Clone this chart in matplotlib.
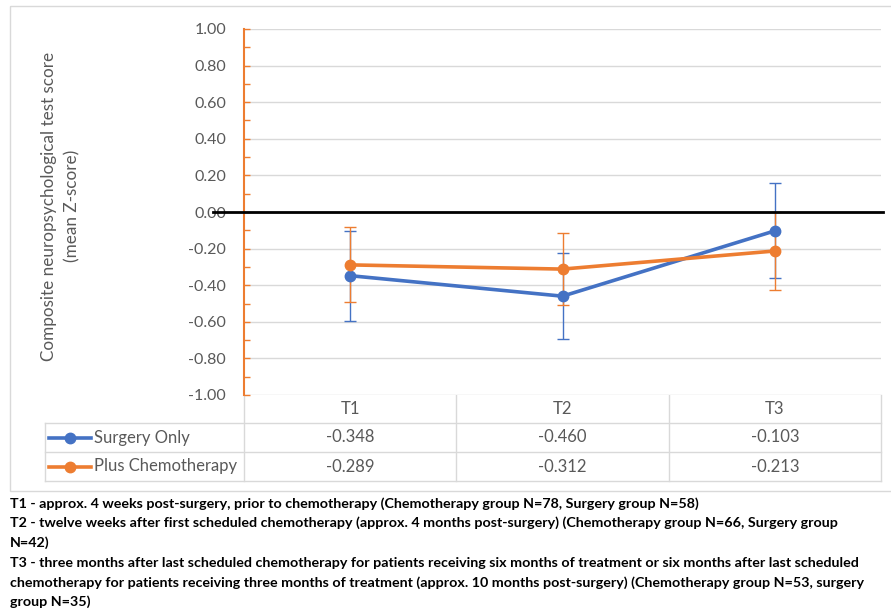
import matplotlib
matplotlib.use("Agg")
import matplotlib.pyplot as plt
from matplotlib.patches import Rectangle

# ------------------------------------------------------------
# data
# ------------------------------------------------------------
timepoints = ["T1", "T2", "T3"]
series_names = ["Surgery Only", "Plus Chemotherapy"]
surgery = [-0.348, -0.460, -0.103]
chemo = [-0.289, -0.312, -0.213]
surgery_err = [0.245, 0.235, 0.260]
chemo_err = [0.205, 0.195, 0.213]

footnotes = [
    "T1 - approx. 4 weeks post-surgery, prior to chemotherapy (Chemotherapy group N=78, Surgery group N=58)",
    "T2 - twelve weeks after first scheduled chemotherapy (approx. 4 months post-surgery) (Chemotherapy group N=66, Surgery group",
    "N=42)",
    "T3 - three months after last scheduled chemotherapy for patients receiving six months of treatment or six months after last scheduled",
    "chemotherapy for patients receiving three months of treatment (approx. 10 months post-surgery) (Chemotherapy group N=53, surgery",
    "group N=35)",
]

BLUE = "#4472C4"
ORANGE = "#ED7D31"
GRAY_TXT = "#595959"
GRID = "#D9D9D9"
FONT = "Lato"

W, H = 891, 612
fig = plt.figure(figsize=(W / 100, H / 100), dpi=100)

# plot area in pixels
L, R, T, B = 244, 881, 29, 395
ax = fig.add_axes([L / W, 1 - B / H, (R - L) / W, (B - T) / H])

x = [i + 0.5 for i in range(len(timepoints))]
series = [(surgery, surgery_err, BLUE), (chemo, chemo_err, ORANGE)]
for vals, errs, col in series:
    ax.errorbar(x, vals, yerr=errs, fmt="none", ecolor=col, elinewidth=1.0,
                capsize=4, capthick=1.0, zorder=2)
for vals, errs, col in series:
    ax.plot(x, vals, color=col, lw=2.6, marker="o", ms=7.5, zorder=3)

# zero reference line
ax.plot([-0.049, 1.003], [0, 0], transform=ax.get_yaxis_transform(),
        color="black", lw=2, clip_on=False, zorder=5)

ax.set_xlim(0, 3)
ax.set_ylim(-1, 1)
ax.set_yticks([-1 + 0.2 * i for i in range(11)])
ax.set_yticks([-0.9 + 0.2 * i for i in range(10)], minor=True)
ax.set_yticklabels([f"{-1 + 0.2 * i:.2f}" for i in range(11)],
                   fontsize=11.5, color=GRAY_TXT, family=FONT)
ax.tick_params(axis="y", which="both", direction="in", length=4, width=1,
               color=ORANGE, pad=13)
ax.set_xticks([])
ax.grid(axis="y", color=GRID, lw=1)
ax.set_axisbelow(True)
for s in ["top", "right", "bottom"]:
    ax.spines[s].set_visible(False)
ax.spines["left"].set_color(ORANGE)
ax.spines["left"].set_linewidth(1.5)

fig.text(61 / W, 1 - 206 / H,
         "Composite neuropsychological test score\n(mean Z-score)",
         rotation=90, ha="center", va="center", multialignment="center",
         fontsize=12.3, color=GRAY_TXT, family=FONT, linespacing=1.55)

# ------------------------------------------------------------
# overlay in pixel coordinates: data table, border, footnotes
# ------------------------------------------------------------
ov = fig.add_axes([0, 0, 1, 1], zorder=-1)
ov.set_xlim(0, W)
ov.set_ylim(H, 0)
ov.axis("off")

ov.add_patch(Rectangle((10, 6), 900, 485, fill=False, ec=GRID, lw=1))

col_w = (R - L) / len(timepoints)
row_y = [395, 423, 452, 481]
leg_left = 45
for yy in row_y[1:]:
    ov.plot([leg_left, R], [yy, yy], color=GRID, lw=1)
ov.plot([leg_left, leg_left], [row_y[1], row_y[3]], color=GRID, lw=1)
for i in range(len(timepoints) + 1):
    xx = L + i * col_w
    ov.plot([xx, xx], [row_y[0], row_y[3]], color=GRID, lw=1)

for i, tp in enumerate(timepoints):
    cx = L + (i + 0.5) * col_w
    ov.text(cx, (row_y[0] + row_y[1]) / 2, tp, ha="center", va="center",
            fontsize=12, color=GRAY_TXT, family=FONT)
for r, (name, (vals, errs, col)) in enumerate(zip(series_names, series)):
    cy = (row_y[r + 1] + row_y[r + 2]) / 2
    ov.plot([49, 91], [cy, cy], color=col, lw=2.6)
    ov.plot([70], [cy], color=col, marker="o", ms=7.5)
    ov.text(94, cy, name, ha="left", va="center", fontsize=12,
            color=GRAY_TXT, family=FONT)
    for i, v in enumerate(vals):
        ov.text(L + (i + 0.5) * col_w, cy, f"{v:.3f}", ha="center",
                va="center", fontsize=12, color=GRAY_TXT, family=FONT)

fn_y = [504, 523, 543, 563, 583, 602]
for yy, line in zip(fn_y, footnotes):
    ov.text(10, yy, line, ha="left", va="center", fontsize=10.3,
            fontweight="bold", color="black", family=FONT)

fig.savefig("out.png", dpi=100)
